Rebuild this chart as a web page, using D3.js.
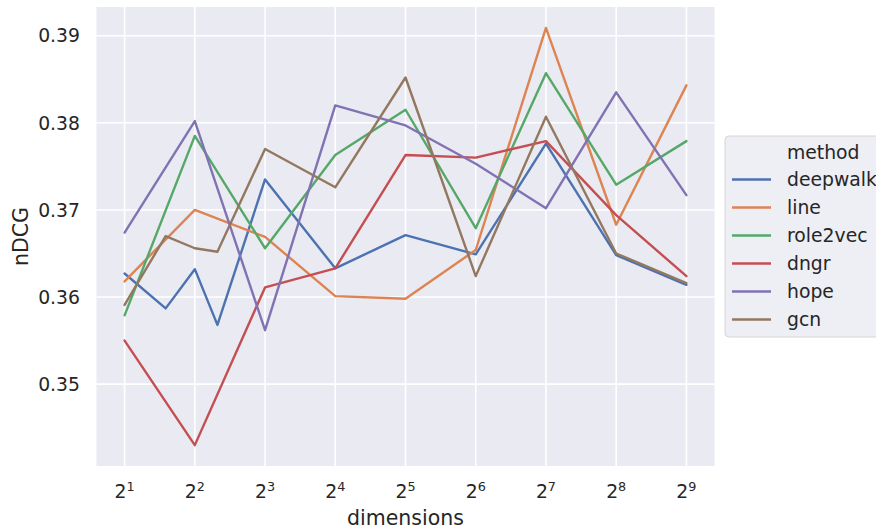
<!DOCTYPE html>
<html>
<head>
<meta charset="utf-8">
<script src="https://cdn.jsdelivr.net/npm/d3@7"></script>
<style>
  body { margin: 0; background: #fff; }
  text { font-family: "DejaVu Sans", sans-serif; fill: #262626; }
</style>
</head>
<body>
<div id="chart"></div>
<script>
// Data
const dims = [2, 4, 8, 16, 32, 64, 128, 256, 512]
const dimsFine = [2, 3, 4, 5, 8, 16, 32, 64, 128, 256, 512]

const deepwalk = [0.3627, 0.3587, 0.3632, 0.3568, 0.3735, 0.3633, 0.3671, 0.3649, 0.3776, 0.3648, 0.3614]
const line = [0.3618, 0.3700, 0.3669, 0.3601, 0.3598, 0.3654, 0.3909, 0.3683, 0.3843]
const role2vec = [0.3579, 0.3785, 0.3656, 0.3763, 0.3815, 0.3679, 0.3857, 0.3729, 0.3779]
const dngr = [0.3550, 0.3430, 0.3611, 0.3633, 0.3763, 0.3760, 0.3779, 0.3694, 0.3624]
const hope = [0.3674, 0.3802, 0.3562, 0.3820, 0.3797, 0.3753, 0.3702, 0.3835, 0.3717]
const gcn = [0.3591, 0.3670, 0.3656, 0.3652, 0.3770, 0.3726, 0.3852, 0.3624, 0.3807, 0.3650, 0.3616]

const methods = ['deepwalk', 'line', 'role2vec', 'dngr', 'hope', 'gcn']
const colors = ['#4C72B0', '#DD8452', '#55A868', '#C44E52', '#8172B3', '#937860']
const xTickExps = [1, 2, 3, 4, 5, 6, 7, 8, 9]
const yTicks = [0.35, 0.36, 0.37, 0.38, 0.39]

const series = [
  { name: 'deepwalk', x: dimsFine, y: deepwalk },
  { name: 'line', x: dims, y: line },
  { name: 'role2vec', x: dims, y: role2vec },
  { name: 'dngr', x: dims, y: dngr },
  { name: 'hope', x: dims, y: hope },
  { name: 'gcn', x: dimsFine, y: gcn }
]

function draw() {
  // Dimensions
  let dimensions = {
    width: 876,
    height: 531,
    left: 96.5,
    right: 714.5,
    top: 7,
    bottom: 466
  }

  const svg = d3.select('#chart')
    .append('svg')
    .attr('width', dimensions.width)
    .attr('height', dimensions.height)

  // Scales (5% margins like matplotlib)
  const allY = series.flatMap(s => s.y)
  const yMin = d3.min(allY), yMax = d3.max(allY)
  const yPad = (yMax - yMin) * 0.05
  const yScale = d3.scaleLinear()
    .domain([yMin - yPad, yMax + yPad])
    .range([dimensions.bottom, dimensions.top])

  const xScale = d3.scaleLog().base(2)
    .domain([Math.pow(2, 0.6), Math.pow(2, 9.4)])
    .range([dimensions.left, dimensions.right])

  // background
  svg.append('rect')
    .attr('x', dimensions.left)
    .attr('y', dimensions.top)
    .attr('width', dimensions.right - dimensions.left)
    .attr('height', dimensions.bottom - dimensions.top)
    .attr('fill', '#EAEAF2')

  // grid
  svg.append('g')
    .selectAll('line')
    .data(xTickExps)
    .join('line')
    .attr('x1', d => xScale(Math.pow(2, d)))
    .attr('x2', d => xScale(Math.pow(2, d)))
    .attr('y1', dimensions.top)
    .attr('y2', dimensions.bottom)
    .attr('stroke', '#fff')
    .attr('stroke-width', 1.6)

  svg.append('g')
    .selectAll('line')
    .data(yTicks)
    .join('line')
    .attr('x1', dimensions.left)
    .attr('x2', dimensions.right)
    .attr('y1', d => yScale(d))
    .attr('y2', d => yScale(d))
    .attr('stroke', '#fff')
    .attr('stroke-width', 1.6)

  // tick labels
  svg.append('g')
    .selectAll('text')
    .data(yTicks)
    .join('text')
    .attr('x', 80)
    .attr('y', d => yScale(d))
    .attr('dy', '0.36em')
    .attr('text-anchor', 'end')
    .attr('font-size', 18.8)
    .text(d => d.toFixed(2))

  const xt = svg.append('g')
    .selectAll('text')
    .data(xTickExps)
    .join('text')
    .attr('x', d => xScale(Math.pow(2, d)))
    .attr('y', 498)
    .attr('text-anchor', 'middle')
    .attr('font-size', 18.8)
  xt.append('tspan').text('2')
  xt.append('tspan')
    .attr('dy', -7.5)
    .attr('font-size', 12.8)
    .text(d => d)

  // axis labels
  svg.append('text')
    .attr('x', (dimensions.left + dimensions.right) / 2)
    .attr('y', 525)
    .attr('text-anchor', 'middle')
    .attr('font-size', 20.5)
    .text('dimensions')

  svg.append('text')
    .attr('transform', `translate(27.5, ${(dimensions.top + dimensions.bottom) / 2}) rotate(-90)`)
    .attr('text-anchor', 'middle')
    .attr('font-size', 20.5)
    .text('nDCG')

  // lines
  const lineGenerator = d3.line()
    .x(d => xScale(d[0]))
    .y(d => yScale(d[1]))

  svg.append('g')
    .selectAll('path')
    .data(series)
    .join('path')
    .attr('d', s => lineGenerator(d3.zip(s.x, s.y)))
    .attr('fill', 'none')
    .attr('stroke', (s, i) => colors[i])
    .attr('stroke-width', 2.4)
    .attr('stroke-linejoin', 'round')
    .attr('stroke-linecap', 'round')

  // legend
  const lg = svg.append('g')
  lg.append('rect')
    .attr('x', 725)
    .attr('y', 136)
    .attr('width', 170)
    .attr('height', 201)
    .attr('rx', 4)
    .attr('fill', '#EEEEF5')
    .attr('stroke', '#D6D6D6')
    .attr('stroke-width', 1)

  lg.append('text')
    .attr('x', 787)
    .attr('y', 152)
    .attr('dy', '0.36em')
    .attr('font-size', 18.8)
    .text('method')

  const items = lg.selectAll('g.item')
    .data(methods)
    .join('g')
    .attr('class', 'item')
    .attr('transform', (d, i) => `translate(0, ${179.5 + i * 28})`)
  items.append('line')
    .attr('x1', 732)
    .attr('x2', 771)
    .attr('stroke', (d, i) => colors[i])
    .attr('stroke-width', 2.4)
  items.append('text')
    .attr('x', 787)
    .attr('dy', '0.36em')
    .attr('font-size', 18.8)
    .text(d => d)

  console.log('Chart drawn')
}

draw()
</script>
</body>
</html>
